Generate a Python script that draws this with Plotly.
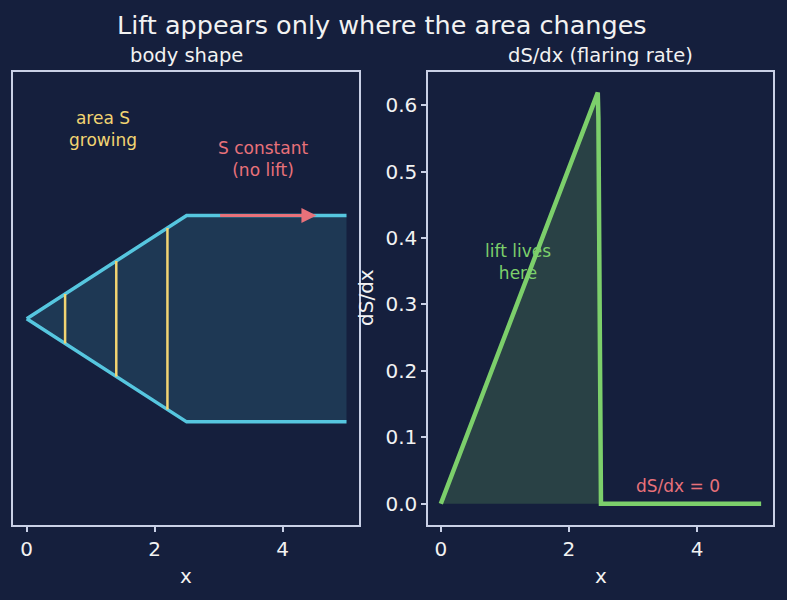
import numpy as np
import plotly.graph_objects as go

# ---------------- data ----------------
profile_x = [0.0, 2.5, 5.0]          # body profile stations
profile_r = [0.0, 0.5, 0.5]          # body radius at stations
section_x = [0.6, 1.4, 2.2]          # cross-section markers (area S growing)
arrow_x = [3.0, 4.53]                # "S constant" arrow extent

dsdx_x = [0.0, 2.45, 2.46, 2.47, 2.48, 2.49, 2.50, 5.0]
dsdx_y = [0.0, 0.619, 0.58, 0.45, 0.30, 0.15, 0.0, 0.0]

x_ticks = [0, 2, 4]
y_ticks = [0.0, 0.1, 0.2, 0.3, 0.4, 0.5, 0.6]

# ---------------- style ----------------
BG = "#151f3d"
FRAME = "#c9d0e6"
TXT = "#f2f2f2"
CYAN = "#56c6df"
YEL = "#f2d472"
RED = "#e8717a"
GREEN = "#7ccf6b"
FONT = "DejaVu Sans"

fig = go.Figure()

px = np.array(profile_x)
pr = np.array(profile_r)

# body fill
fig.add_trace(go.Scatter(
    x=list(px) + list(px[::-1]), y=list(pr) + list(-pr[::-1]),
    fill="toself", fillcolor="rgba(86,198,223,0.15)", mode="none",
    xaxis="x", yaxis="y", hoverinfo="skip"))
# body outline
fig.add_trace(go.Scatter(x=px, y=pr, mode="lines", line=dict(color=CYAN, width=3.5),
                         xaxis="x", yaxis="y"))
fig.add_trace(go.Scatter(x=px, y=-pr, mode="lines", line=dict(color=CYAN, width=3.5),
                         xaxis="x", yaxis="y"))
# cross sections
for sx in section_x:
    r = float(np.interp(sx, px, pr))
    fig.add_trace(go.Scatter(x=[sx, sx], y=[-r, r], mode="lines",
                             line=dict(color=YEL, width=2.5), xaxis="x", yaxis="y"))

# dS/dx curve
fig.add_trace(go.Scatter(x=dsdx_x, y=dsdx_y, mode="lines", fill="tozeroy",
                         fillcolor="rgba(124,207,107,0.2)",
                         line=dict(color=GREEN, width=4.5), xaxis="x2", yaxis="y2"))

r_arrow = float(np.interp(arrow_x[0], px, pr))


def pa(x, y, text, size, **kw):
    return dict(x=x / 787, y=1 - y / 600, xref="paper", yref="paper", text=text,
                showarrow=False, xanchor="center", yanchor="middle",
                font=dict(family=FONT, size=size, color=TXT), **kw)


annotations = [
    # arrow
    dict(x=arrow_x[1], y=r_arrow, ax=arrow_x[0], ay=r_arrow, xref="x", yref="y",
         axref="x", ayref="y", text="", showarrow=True, arrowhead=2, arrowsize=1,
         arrowwidth=3, arrowcolor=RED),
    dict(x=1.2, y=0.92, xref="x", yref="y", text="area S<br>growing", showarrow=False,
         font=dict(family=FONT, size=17, color=YEL)),
    dict(x=3.7, y=0.775, xref="x", yref="y", text="S constant<br>(no lift)", showarrow=False,
         font=dict(family=FONT, size=17, color=RED)),
    dict(x=1.2, y=0.364, xref="x2", yref="y2", text="lift lives<br>here", showarrow=False,
         font=dict(family=FONT, size=17, color=GREEN)),
    dict(x=3.7, y=0.027, xref="x2", yref="y2", text="dS/dx = 0", showarrow=False,
         font=dict(family=FONT, size=17, color=RED)),
    # titles
    pa(382, 25, "Lift appears only where the area changes", 25.5),
    pa(186.3, 55.5, "body shape", 19.5),
    pa(600.7, 55.5, "dS/dx (flaring rate)", 19.5),
    # axis titles
    pa(186.3, 576, "x", 20),
    pa(600.7, 576, "x", 20),
    pa(366, 298, "dS/dx", 20, textangle=-90),
]

axis_common = dict(showgrid=False, zeroline=False, showline=True, mirror=True,
                   linecolor=FRAME, linewidth=1.5, ticks="outside", ticklen=5,
                   tickcolor=FRAME, tickwidth=1.5,
                   tickfont=dict(family=FONT, size=20, color=TXT))

yaxis_left = {k: v for k, v in axis_common.items() if k != "ticks"}

fig.update_layout(
    width=787, height=600,
    paper_bgcolor=BG, plot_bgcolor=BG,
    margin=dict(l=0, r=0, t=0, b=0),
    showlegend=False,
    font=dict(family=FONT, color=TXT),
    xaxis=dict(domain=[13.3 / 787, 359.3 / 787], range=[-0.21, 5.2],
               tickvals=x_ticks, anchor="y", **axis_common),
    yaxis=dict(domain=[1 - 525 / 600, 1 - 72 / 600], range=[-1.0, 1.196],
               anchor="x", showticklabels=False, ticks="", **yaxis_left),
    xaxis2=dict(domain=[428 / 787, 773.3 / 787], range=[-0.2, 5.19],
                tickvals=x_ticks, anchor="y2", **axis_common),
    yaxis2=dict(domain=[1 - 525 / 600, 1 - 72 / 600], range=[-0.032, 0.65],
                tickvals=y_ticks, tickformat=".1f", anchor="x2", **axis_common),
    annotations=annotations,
)

fig.write_html("out.html")
